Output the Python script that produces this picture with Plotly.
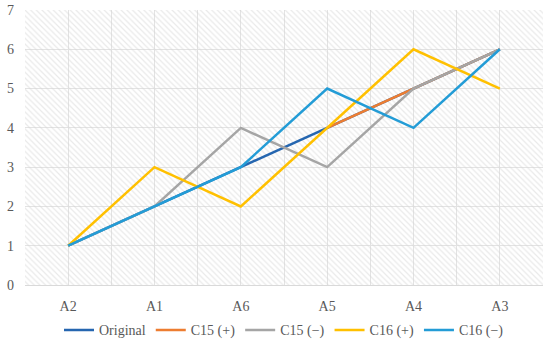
import plotly.graph_objects as go

categories = ["A2", "A1", "A6", "A5", "A4", "A3"]
original = [1, 2, 3, 4, 5, 6]
c15_plus = [None, None, None, 4, 5, 6]
c15_minus = [1, 2, 4, 3, 5, 6]
c16_plus = [1, 3, 2, 4, 6, 5]
c16_minus = [1, 2, 3, 5, 4, 6]

series = [
    ("Original", original, "#2566B0"),
    ("C15 (+)", c15_plus, "#ED7D31"),
    ("C15 (\u2212)", c15_minus, "#A5A5A5"),
    ("C16 (+)", c16_plus, "#FFC000"),
    ("C16 (\u2212)", c16_minus, "#239CD6"),
]

n = len(categories)
x = list(range(n))
xr = [-0.5, n - 0.5]
yr = [0, 7]

FONT = "Liberation Serif, Times New Roman, serif"

fig = go.Figure()
# hatched plot-area background
fig.add_trace(go.Scatter(
    x=[xr[0], xr[1], xr[1], xr[0], xr[0]],
    y=[yr[0], yr[0], yr[1], yr[1], yr[0]],
    mode="lines", line=dict(width=0), fill="toself",
    fillcolor="rgba(0,0,0,0)",
    fillpattern=dict(shape="\\", fgcolor="#d4d4d4", bgcolor="rgba(255,255,255,0)",
                     size=4, solidity=0.3),
    hoverinfo="skip", showlegend=False,
))
for name, vals, col in series:
    fig.add_trace(go.Scatter(x=x, y=vals, name=name, mode="lines",
                             line=dict(color=col, width=2.5)))

half_ticks = [i * 0.5 for i in range(0, 2 * (n - 1) + 1)]
half_text = [categories[int(v)] if v == int(v) else "" for v in half_ticks]

fig.update_layout(
    width=550, height=343,
    margin=dict(l=25, r=7, t=10, b=58, autoexpand=False),
    paper_bgcolor="white", plot_bgcolor="white",
    font=dict(family=FONT, size=14, color="#595959"),
    xaxis=dict(range=xr, tickvals=half_ticks, ticktext=half_text,
               showgrid=True, gridcolor="#e3e3e3", gridwidth=1,
               zeroline=False, showline=True, linecolor="#d9d9d9",
               ticks="", ticklabelstandoff=8, tickfont=dict(family=FONT, size=14),
               automargin=False),
    yaxis=dict(range=yr, dtick=1, showgrid=True, gridcolor="#e3e3e3",
               zeroline=False, showline=False, ticks="",
               ticklabelstandoff=10, tickfont=dict(family=FONT, size=14),
               automargin=False),
    legend=dict(orientation="h", x=0.5, xanchor="center", y=-0.107, yanchor="top",
                font=dict(family=FONT, size=14, color="#595959"), itemwidth=30,
                bgcolor="rgba(0,0,0,0)"),
    showlegend=True,
)

fig.write_html("out.html", config={"displayModeBar": False},
               post_script="document.body.style.margin='0';document.body.style.overflow='hidden';")
